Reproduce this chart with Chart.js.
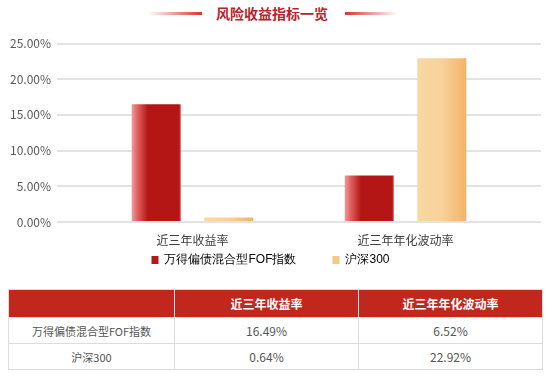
<!DOCTYPE html>
<html>
<head>
<meta charset="utf-8">
<script src="https://cdn.jsdelivr.net/npm/chart.js@4.4.0/dist/chart.umd.min.js"></script>
<style>
  body { margin: 0; background: #fff; font-family: "Noto Sans CJK SC", sans-serif; }
  #wrap { position: relative; width: 550px; height: 376px; overflow: hidden; }
  .title { position: absolute; left: -3px; top: 0; width: 550px; height: 26px; line-height: 26px; text-align: center; color: #b8232a; font-weight: bold; font-size: 14px; }
  .deco { position: absolute; top: 12px; height: 3px; }
  #chartBox { position: absolute; left: 0; top: 0; width: 550px; height: 282px; }
  table { position: absolute; left: 8px; top: 289px; width: 534px; border-collapse: collapse; table-layout: fixed; font-size: 12px; color: #555; }
  th, td { border: 1px solid #dcdcdc; text-align: center; padding: 0; }
  th { background: #c1271d; color: #fff; height: 27px; font-weight: bold; }
  td { height: 25px; }
  td.name { font-size: 11px; }
</style>
</head>
<body>
<div id="wrap">
  <div class="deco" style="left:148px;width:54px;background:linear-gradient(to right, rgba(216,54,42,0), #d8362a);"></div>
  <div class="deco" style="left:345px;width:53px;background:linear-gradient(to right, #d8362a, rgba(216,54,42,0));"></div>
  <div class="title">风险收益指标一览</div>
  <div id="chartBox"><canvas id="chart"></canvas></div>
  <table id="tbl">
    <colgroup><col style="width:166px"><col style="width:184px"><col style="width:184px"></colgroup>
  </table>
</div>
<script>
const categories = ["近三年收益率", "近三年年化波动率"];
const seriesNames = ["万得偏债混合型FOF指数", "沪深300"];
const fofValues = [16.49, 6.52];
const hs300Values = [0.64, 22.92];
const yTicks = [0, 5, 10, 15, 20, 25];

const legendColors = ["#b31b1b", "#f5c88a"];
const CAT_PCT = 0.681;
const BAR_PCT = 0.676;
const LEGEND_GAP = "\u3000\u3000\u2002"; // extra room between the two legend items

// horizontal gradient across each bar, bar position taken from the x scale
function barGradient(stops, solid) {
  return (ctx) => {
    const chart = ctx.chart;
    const xs = chart.scales.x;
    if (ctx.type !== "data" || !xs || !chart.chartArea) return solid;
    const step = xs.getPixelForValue(1) - xs.getPixelForValue(0);
    const size = step * CAT_PCT;
    const chunk = size / 2;
    const w = chunk * BAR_PCT;
    const c = xs.getPixelForValue(ctx.dataIndex) - size / 2 + chunk * (ctx.datasetIndex + 0.5);
    const g = chart.ctx.createLinearGradient(c - w / 2, 0, c + w / 2, 0);
    stops.forEach(([o, col]) => g.addColorStop(o, col));
    return g;
  };
}

const redFill = barGradient([
  [0, "#f29a9a"], [0.12, "#e06060"], [0.33, "#b41616"], [0.96, "#b41616"], [1, "#d04444"]
], "#b41616");
const orangeFill = barGradient([
  [0, "#f8d8a4"], [0.5, "#f7d29a"], [1, "#f2b469"]
], "#f5c88a");

new Chart(document.getElementById("chart"), {
  type: "bar",
  data: {
    datasets: [
      {
        label: seriesNames[0],
        data: fofValues.map((v, i) => ({ x: i, y: v })),
        backgroundColor: redFill,
        borderWidth: 0
      },
      {
        label: seriesNames[1],
        data: hs300Values.map((v, i) => ({ x: i, y: v })),
        backgroundColor: orangeFill,
        borderWidth: 0
      }
    ]
  },
  options: {
    responsive: true,
    maintainAspectRatio: false,
    animation: false,
    datasets: { bar: { categoryPercentage: CAT_PCT, barPercentage: BAR_PCT } },
    layout: { padding: { top: 43.5, right: 9, left: 0, bottom: 6 } },
    font: { family: "'Noto Sans CJK SC', sans-serif", size: 12 },
    scales: {
      x: {
        type: "linear",
        min: -0.636,
        max: 1.636,
        offset: false,
        grid: { display: false, offset: false, drawTicks: false },
        border: { display: false },
        afterBuildTicks: s => { s.ticks = categories.map((_, i) => ({ value: i })); },
        ticks: {
          callback: v => categories[v],
          padding: 11,
          color: "#404040",
          autoSkip: false,
          maxRotation: 0,
          font: { size: 12 }
        },
        afterFit: s => { s.height = 26; }
      },
      y: {
        min: yTicks[0],
        max: yTicks[yTicks.length - 1],
        border: { display: false },
        grid: { color: "#e3e3e3", lineWidth: 2, drawTicks: false },
        ticks: {
          stepSize: 5,
          padding: 6,
          color: "#595959",
          font: { size: 12 },
          callback: v => v.toFixed(2) + "%"
        },
        afterFit: s => { s.width = 57; }
      }
    },
    plugins: {
      tooltip: { enabled: false },
      legend: {
        position: "bottom",
        labels: {
          boxWidth: 7,
          boxHeight: 8,
          padding: 6,
          color: "#404040",
          font: { size: 12 },
          generateLabels: () => seriesNames.map((name, i) => ({
            text: i === 0 ? name + LEGEND_GAP : name,
            fillStyle: legendColors[i],
            strokeStyle: legendColors[i],
            lineWidth: 0,
            datasetIndex: i,
            hidden: false
          }))
        }
      }
    }
  }
});

// table from the same arrays
const tbl = document.getElementById("tbl");
const head = document.createElement("tr");
head.innerHTML = "<th></th>" + categories.map(c => "<th>" + c + "</th>").join("");
tbl.appendChild(head);
[fofValues, hs300Values].forEach((vals, i) => {
  const tr = document.createElement("tr");
  tr.innerHTML = "<td class=\"name\">" + seriesNames[i] + "</td>" + vals.map(v => "<td>" + v.toFixed(2) + "%</td>").join("");
  tbl.appendChild(tr);
});
</script>
</body>
</html>
